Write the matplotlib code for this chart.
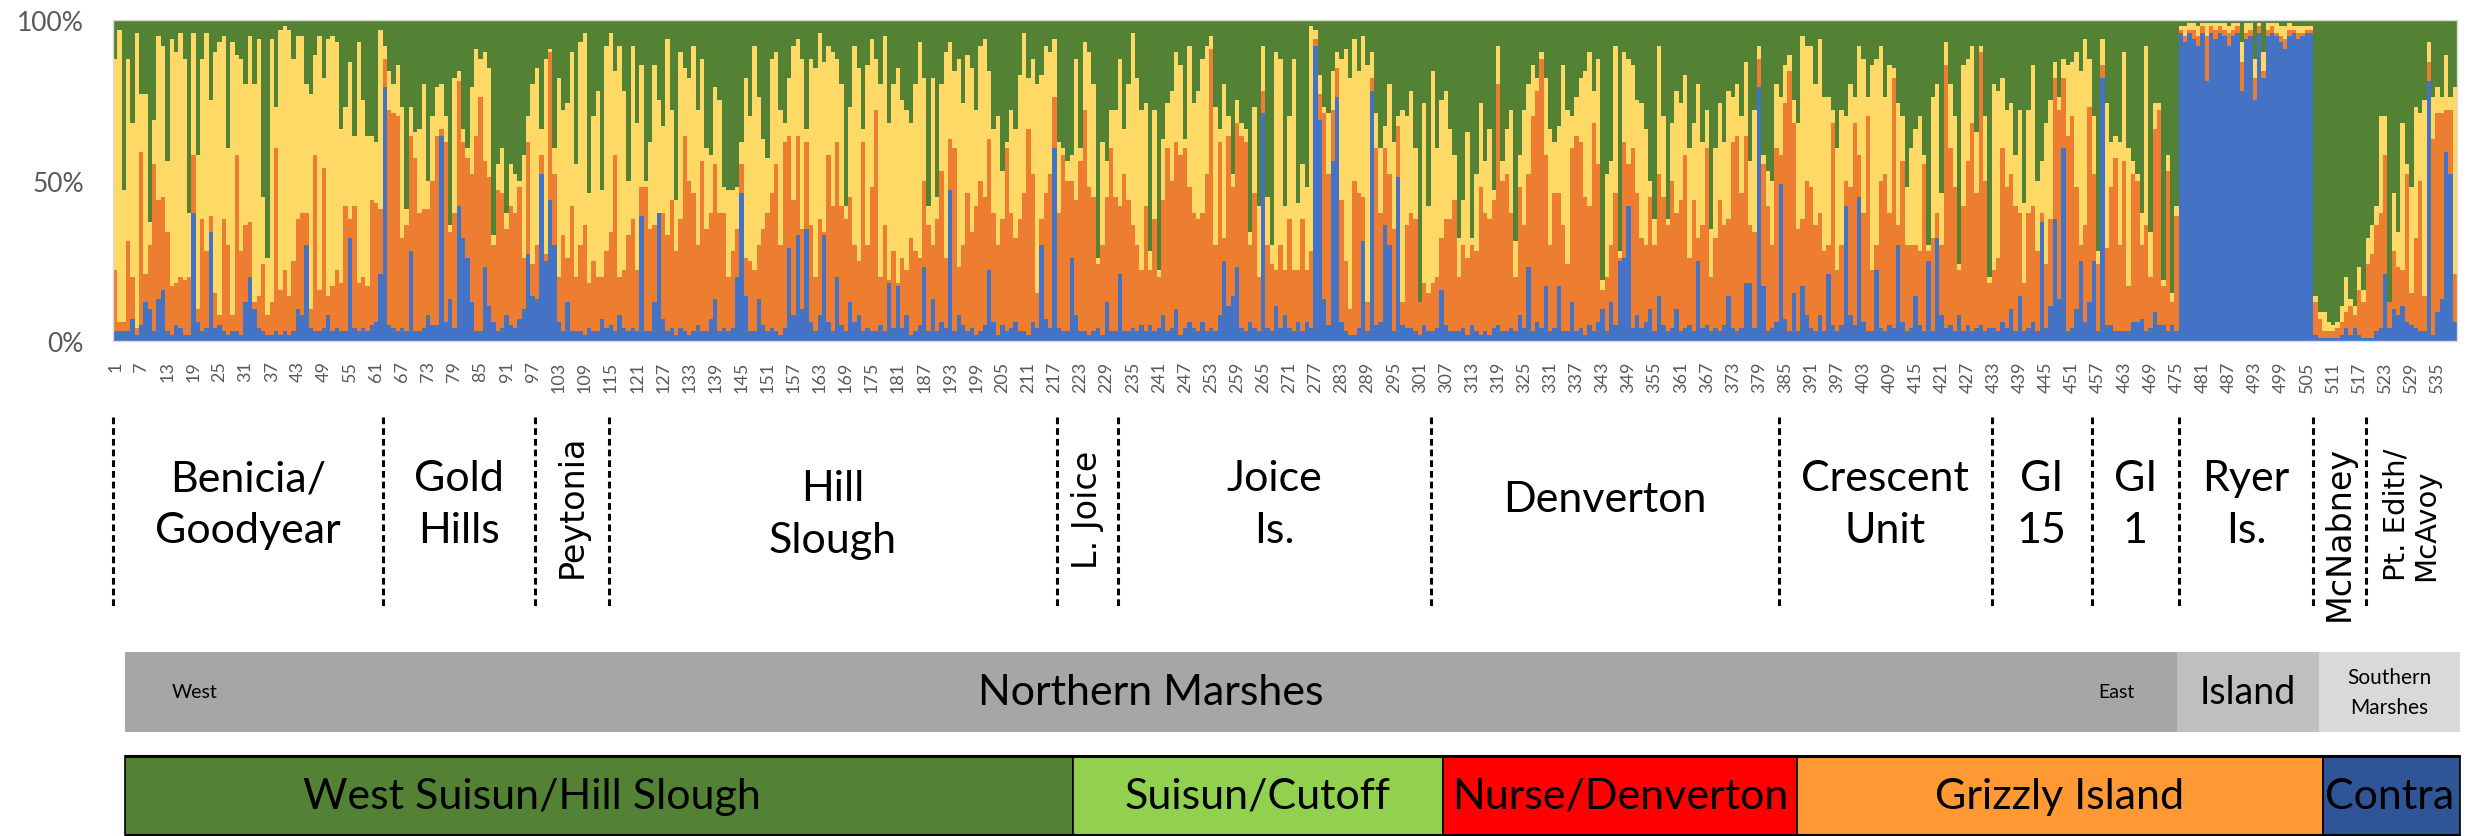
import numpy as np
import matplotlib
matplotlib.use('Agg')
import matplotlib.pyplot as plt

plt.rcParams['font.family'] = ['Lato', 'DejaVu Sans']

# ancestry per sample, read off the figure as cumulative tops in %
# (blue top, orange top, yellow top); green fills up to 100
benicia = [
    (3,22,88),(3,6,97),(3,6,47),(3,31,88),(7,20,68),(2,4,96),(5,59,77),(12,21,77),(10,30,37),(3,55,69),
    (13,44,95),(16,45,92),(3,34,56),(2,17,94),(5,18,90),(4,20,96),(2,19,88),(2,20,40),(40,58,96),(6,10,58),
    (3,38,88),(4,28,96),(34,39,75),(4,15,90),(5,8,93),(3,38,95),(2,30,60),(3,8,93),(3,58,89),(2,28,88),
    (12,36,80),(20,37,95),(10,12,80),(4,14,94),(3,24,45),(2,8,26),(2,12,94),(3,60,73),(2,16,97),(3,22,98),
    (2,14,97),(3,25,88),(10,38,95),(8,40,95),(30,40,80),(4,10,77),(3,58,89),(3,16,95),(4,54,82),(8,14,94),
    (3,17,95),(4,22,93),(3,18,66),(3,42,73),(32,38,87),(4,42,64),(3,18,93),(4,20,75),(3,17,64),(5,44,64),
    (6,43,62),(21,41,97)]
gold_hills = [
    (79,88,92),(5,72,84),(4,71,80),(3,70,86),(4,32,73),(3,36,41),(28,64,73),(3,57,65),(3,40,66),(4,41,80),
    (8,41,50),(5,50,70),(5,64,79),(64,66,80),(6,62,70),(13,34,36),(4,40,82),(42,81,84),(32,62,66),(26,57,60),
    (12,52,79),(3,64,91),(3,76,88),(23,56,90),(11,51,85),(6,30,33),(3,47,55),(4,46,60),(8,35,40),(5,42,55),
    (4,40,52),(7,48,50),(10,26,58),(27,62,70),(14,24,80)]
peytonia = [
    (13,30,85),(52,58,66),(25,27,88),(44,90,91),(30,52,60),(6,20,82),(3,33,72),(12,26,74),(3,42,90),(3,20,55),
    (3,30,93),(2,36,96),(4,18,46),(3,25,70),(3,20,78),(7,20,47),(4,28,92)]
hill_slough = [
    (5,34,96),(3,58,84),(8,20,92),(4,22,78),(3,33,50),(4,38,92),(3,22,68),(39,48,86),(3,48,50),(3,35,62),
    (12,36,86),(40,40,75),(7,40,67),(3,33,94),(4,44,72),(2,28,44),(4,38,90),(3,64,85),(2,50,82),(3,46,92),
    (5,30,72),(3,56,88),(3,35,60),(7,40,58),(13,55,79),(3,40,75),(4,40,48),(3,20,47),(4,28,47),(20,35,48),
    (46,55,62),(14,26,82),(3,25,70),(3,22,92),(13,30,76),(5,35,63),(3,40,57),(4,46,88),(3,55,90),(2,30,72),
    (4,62,68),(29,64,82),(8,44,92),(33,64,94),(10,35,88),(35,62,66),(6,36,88),(3,20,85),(8,38,96),(33,34,87),
    (6,58,92),(3,42,90),(20,62,88),(5,42,80),(3,38,42),(12,45,73),(6,30,92),(8,25,85),(3,62,66),(4,30,86),
    (3,48,94),(3,72,88),(5,20,80),(3,36,95),(18,19,68),(4,28,80),(17,18,85),(4,26,75),(8,22,72),(2,32,68),
    (3,28,80),(5,26,93),(23,50,82),(3,36,42),(13,30,82),(3,38,45),(6,53,80),(4,26,90),(47,63,93),(3,60,84),
    (8,23,88),(5,30,74),(3,46,89),(4,34,85),(2,42,72),(3,50,92),(5,45,94),(22,63,84),(6,40,66),(2,30,70),
    (5,38,53),(3,60,62),(4,40,72),(6,32,66),(3,38,83),(3,46,96),(2,66,82),(6,52,88),(4,15,80),(30,38,83),
    (7,46,92),(4,52,90),(60,76,94)]
l_joice = [
    (4,40,62),(3,58,60),(3,50,56),(26,50,58),(8,44,88),(3,56,60),(3,72,93),(2,48,90),(3,45,80),(4,24,26),
    (2,30,62),(12,45,56),(3,60,72),(3,45,72)]
joice = [
    (21,42,88),(3,52,66),(3,44,80),(4,36,96),(3,30,82),(5,22,72),(3,42,74),(5,22,28),(3,38,72),(4,20,22),
    (8,44,63),(3,60,74),(4,50,78),(10,62,90),(2,58,86),(4,60,63),(6,48,92),(4,40,74),(3,38,78),(6,40,88),
    (3,52,92),(4,91,95),(3,30,73),(8,62,66),(25,32,80),(11,64,70),(14,48,52),(23,68,75),(4,64,68),(3,62,66),
    (6,30,34),(4,46,73),(3,20,42),(71,78,92),(4,30,45),(3,24,30),(11,22,90),(4,30,88),(8,22,42),(4,38,70),
    (3,22,88),(6,22,43),(3,38,55),(6,22,48),(4,28,98),(92,94,97),(69,77,83),(13,71,73),(5,52,71),(56,72,84),
    (76,85,90),(6,44,88),(3,25,91),(2,10,82),(2,50,94),(4,46,84),(31,45,95),(3,12,86),(78,82,90),(5,60,71),
    (6,40,60),(36,60,67),(30,52,80),(3,35,62),(51,67,70),(5,12,72),(4,36,70),(4,40,78),(3,38,60),(2,12,12),
    (5,18,74),(3,15,42)]
denverton = [
    (3,18,84),(4,20,60),(16,32,75),(5,38,78),(3,38,66),(3,44,58),(3,20,32),(4,30,44),(2,26,65),(5,30,32),
    (3,28,52),(2,48,74),(3,40,56),(2,38,66),(4,44,47),(5,80,92),(3,50,56),(3,52,66),(4,40,72),(3,20,31),
    (8,48,58),(4,36,72),(23,52,80),(3,70,86),(6,78,82),(4,88,90),(17,58,82),(3,30,66),(4,46,62),(17,46,67),
    (3,36,86),(3,24,72),(12,60,70),(3,64,76),(4,62,82),(2,45,84),(5,42,90),(3,68,78),(6,55,88),(10,16,19),
    (3,20,52),(12,30,56),(5,46,92),(25,26,28),(26,62,90),(42,55,88),(4,60,86),(8,46,75),(4,32,74),(6,30,66),
    (10,45,50),(3,30,38),(14,52,92),(5,45,70),(3,36,38),(4,50,68),(10,40,78),(3,44,74),(4,58,83),(5,26,60),
    (3,44,68),(25,32,80),(4,36,62),(5,60,72),(3,20,35),(4,32,60),(3,44,74),(5,36,62),(14,38,78),(4,62,76),
    (3,64,80),(4,46,70),(18,64,87),(18,36,56),(4,34,72),(79,88,92),(17,55,58),(3,42,53),(4,30,50),(6,60,80)]
crescent = [
    (49,58,76),(7,74,86),(3,84,89),(15,68,75),(3,35,68),(17,38,95),(8,50,92),(4,48,92),(3,36,80),(8,40,94),
    (3,28,76),(21,30,76),(5,68,72),(3,22,60),(5,30,72),(42,50,70),(8,48,80),(5,68,76),(45,58,92),(6,40,88),
    (3,70,76),(3,22,86),(22,30,88),(4,50,92),(3,52,76),(5,40,86),(4,82,85),(30,36,74),(6,56,70),(3,30,48),
    (4,30,60),(14,30,66),(5,28,70),(3,55,58),(25,28,30),(3,32,76),(32,40,80),(8,30,46),(4,86,93),(5,60,80),
    (3,48,70),(8,22,24),(3,42,86),(5,56,88),(3,68,92),(4,46,65),(5,90,92),(3,50,70),(4,18,20)]
gi15 = [
    (4,22,80),(3,26,78),(6,60,82),(4,48,72),(10,52,74),(3,42,58),(14,40,72),(3,18,43),(4,40,72),(6,42,86),
    (3,28,50),(37,40,56),(4,24,68),(11,38,75),(38,82,87),(13,72,76),(60,82,88),(3,64,86),(4,70,87),(10,48,90),
    (25,30,84),(6,36,94),(12,73,88)]
gi1 = [
    (25,52,70),(3,24,28),(82,86,94),(5,29,74),(5,48,62),(3,57,64),(3,30,62),(3,56,90),(3,17,60),(6,52,56),
    (6,50,52),(7,30,40),(3,36,92),(4,20,34),(9,66,74),(5,72,74),(5,17,19),(3,53,58),(5,12,15),(3,39,42)]
ryer = [
    (96,97,98),(93,95,98),(96,97,99),(94,97,99),(92,95,98),(96,98,99),(81,95,99),(96,98,99),(94,97,99),(96,98,99),
    (95,97,99),(92,96,98),(95,97,99),(96,98,99),(78,87,93),(94,96,99),(95,97,99),(75,82,88),(96,98,99),(82,84,90),
    (95,97,99),(96,98,99),(95,96,99),(93,95,98),(91,94,98),(95,97,99),(96,97,98),(94,96,98),(95,96,98),(96,97,98),
    (96,97,98)]
mcnabney = [
    (2,12,14),(1,7,9),(1,3,9),(1,3,6),(1,3,5),(1,4,6),(2,6,11),(4,9,20),(2,11,13),(4,8,11),(2,16,23),(1,12,16)]
pt_edith = [
    (1,24,32),(1,27,36),(3,36,42),(4,40,70),(21,58,70),(4,12,12),(10,28,46),(8,23,34),(11,22,68),(6,52,55),
    (5,15,48),(4,32,73),(3,50,71),(3,14,75),(81,87,93),(2,63,76),(9,71,79),(13,71,76),(59,72,89),(52,72,76),
    (6,21,79)]

sites = [benicia, gold_hills, peytonia, hill_slough, l_joice, joice, denverton,
         crescent, gi15, gi1, ryer, mcnabney, pt_edith]
site_labels = ['Benicia/\nGoodyear', 'Gold\nHills', 'Peytonia', 'Hill\nSlough', 'L. Joice',
               'Joice\nIs.', 'Denverton', 'Crescent\nUnit', 'GI\n15', 'GI\n1', 'Ryer\nIs.',
               'McNabney', 'Pt. Edith/\nMcAvoy']
vertical_sites = ['Peytonia', 'L. Joice', 'McNabney', 'Pt. Edith/\nMcAvoy']

# geographic regions and genetic clusters, as spans along the sample axis
region_labels = ['Northern Marshes', 'Island', 'Southern\nMarshes']
region_bounds = [3.3, 475.1, 507.7, 540.2]
cluster_labels = ['West Suisun/Hill Slough', 'Suisun/Cutoff', 'Nurse/Denverton',
                  'Grizzly Island', 'Contra']
cluster_bounds = [3.3, 221.2, 306.3, 387.7, 508.7, 540.2]

comp_colors = ['#4472C4', '#ED7D31', '#FFD966', '#548235']
region_colors = ['#A6A6A6', '#BFBFBF', '#D9D9D9']
cluster_colors = ['#548235', '#92D050', '#FF0000', '#FF9933', '#2F5597']

tops = np.array([t for s in sites for t in s], dtype=float) / 100.0
n = len(tops)
shares = [tops[:, 0], tops[:, 1] - tops[:, 0], tops[:, 2] - tops[:, 1], 1.0 - tops[:, 2]]
sizes = [len(s) for s in sites]
edges = 0.5 + np.concatenate([[0], np.cumsum(sizes)])

W, H = 2473, 837
fig = plt.figure(figsize=(W / 100, H / 100), dpi=100)
ax = fig.add_axes([113 / W, 1 - 342 / H, (2457 - 113) / W, (342 - 21) / H])
ax.set_zorder(2)

x = np.arange(1, n + 1)
bottom = np.zeros(n)
for share, col in zip(shares, comp_colors):
    ax.bar(x, share, width=1.0, bottom=bottom, color=col, linewidth=0, antialiased=False)
    bottom += share

ax.set_xlim(0.5, n + 0.5)
ax.set_ylim(0, 1)
ax.set_xticks(np.arange(1, n + 1, 6))
ax.set_xticklabels([str(i) for i in range(1, n + 1, 6)], rotation=90, fontsize=13, color='#595959')
ax.set_yticks([0, 0.5, 1])
ax.set_yticklabels(['0%', '50%', '100%'], fontsize=19, color='#595959')
ax.tick_params(axis='x', length=0, pad=14)
ax.tick_params(axis='y', length=0, pad=21)
for sp in ax.spines.values():
    sp.set_color('#D9D9D9')
    sp.set_linewidth(1)

# lower panel: site labels, regions and clusters on the same sample axis
low = fig.add_axes([113 / W, 0, (2457 - 113) / W, 1])
low.set_zorder(1)
low.set_xlim(0.5, n + 0.5)
low.set_ylim(H, 0)
low.axis('off')

low.vlines(edges[:-1], 418, 607, colors='black', linewidth=2.2,
           linestyles=(0, (2.2, 1.3)), clip_on=False)

label_y = {'Hill\nSlough': 515, 'Denverton': 500, 'Peytonia': 506, 'L. Joice': 510,
           'McNabney': 533, 'Pt. Edith/\nMcAvoy': 515}
for lab, a, b in zip(site_labels, edges[:-1], edges[1:]):
    cx = (a + b) / 2
    y = label_y.get(lab, 505)
    if lab in vertical_sites:
        fs = 21 if '\n' in lab else 24
        low.text(cx, y, lab, rotation=90, ha='center', va='center', fontsize=fs,
                 family=['DejaVu Sans'], multialignment='left', linespacing=1.1)
    else:
        low.text(cx, y, lab, ha='center', va='center', fontsize=31, linespacing=1.45)

# region bar
r0 = np.array(region_bounds[:-1])
r1 = np.array(region_bounds[1:])
low.barh(693, r1 - r0, left=r0, height=80, color=region_colors, linewidth=0, clip_on=False)
low.text(r0[0] + 16, 693, 'West', ha='center', va='center', fontsize=14)
low.text(r1[0] - 14, 693, 'East', ha='center', va='center', fontsize=14)
for lab, a, b in zip(region_labels, r0, r1):
    fs = 15 if '\n' in lab else (31 if lab == 'Northern Marshes' else 27)
    low.text((a + b) / 2, 693, lab, ha='center', va='center', fontsize=fs, linespacing=1.6)

# cluster bar
c0 = np.array(cluster_bounds[:-1])
c1 = np.array(cluster_bounds[1:])
low.barh(796.5, c1 - c0, left=c0, height=79, color=cluster_colors, edgecolor='black',
         linewidth=1.2, clip_on=False)
low.hlines([757, 836], c0[0], c1[-1], colors='black', linewidth=2.2, clip_on=False)
label_shift = {'West Suisun/Hill Slough': -15.5}
for lab, a, b in zip(cluster_labels, c0, c1):
    if lab == 'Contra':
        low.text(a + 0.5, 797, lab, ha='left', va='center', fontsize=31)
    else:
        low.text((a + b) / 2 + label_shift.get(lab, 0), 797, lab,
                 ha='center', va='center', fontsize=31)

fig.savefig('out.png', dpi=100)
